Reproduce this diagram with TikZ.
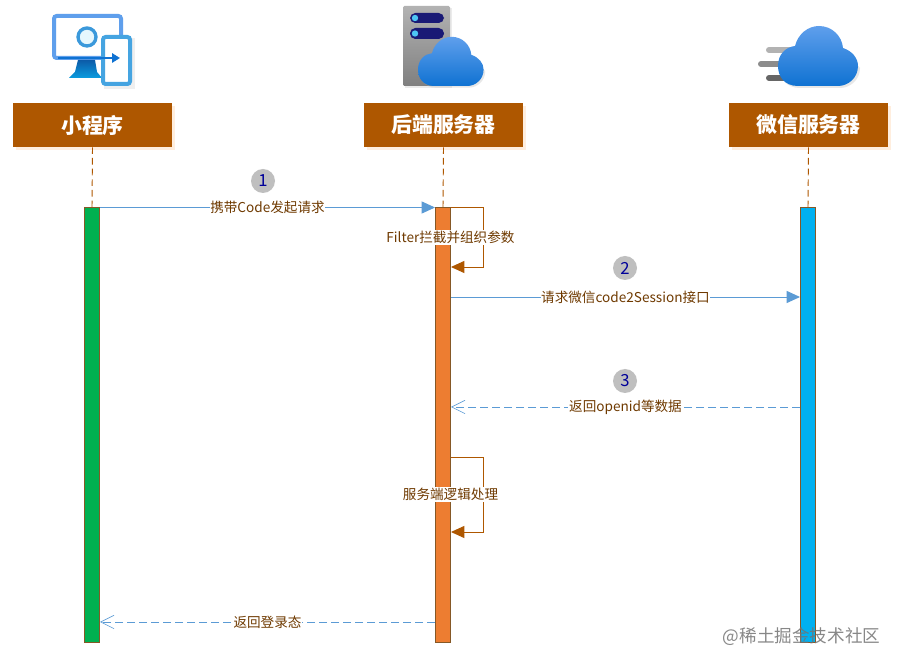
\documentclass[tikz,border=0pt]{standalone}
\usepackage{fontspec}
\setmainfont{Noto Sans CJK SC}
\usetikzlibrary{arrows.meta,positioning,shadows}
\definecolor{headbrown}{HTML}{AE5700}
\definecolor{textbrown}{HTML}{6F3A00}
\definecolor{arrowblue}{HTML}{5B9BD5}
\definecolor{cloudtop}{HTML}{5F9FEC}
\definecolor{cloudbot}{HTML}{0F72D2}
\definecolor{appgreen}{HTML}{00B050}
\definecolor{srvorange}{HTML}{ED7D31}
\definecolor{wxblue}{HTML}{00B0F0}
\tikzset{
	header/.style={fill=headbrown, text=white, font=\fontsize{15.7}{18}\selectfont\bfseries, minimum width=119.25pt, minimum height=33pt, inner sep=0pt, drop shadow={shadow xshift=2pt, shadow yshift=-2pt, fill=orange!25, opacity=0.5}},
	lifebar/.style={draw=textbrown!85, line width=0.5pt, minimum width=11.5pt, minimum height=326.25pt, inner sep=0pt, anchor=north},
	lifeline/.style={draw=headbrown, dash pattern=on 5pt off 3pt, line width=0.7pt},
	callline/.style={draw=arrowblue, line width=0.7pt, -{Triangle[length=10pt,width=9pt]}},
	backline/.style={draw=arrowblue, line width=0.7pt, dash pattern=on 6pt off 3pt, -{Straight Barb[length=10pt,width=10pt,line width=0.5pt]}},
	selfline/.style={draw=headbrown, line width=0.7pt, -{Triangle[length=10pt,width=9pt]}},
	msg/.style={fill=white, text=textbrown, font=\fontsize{10.2}{12}\selectfont, inner xsep=0.5pt, inner ysep=1pt},
	step num/.style={circle, fill=black!25, text=blue!60!black, minimum size=18pt, inner sep=0pt, font=\fontsize{12.5}{14}\selectfont},
	pics/cloudpic/.style={code={
		\fill[black!30, opacity=0.3] (22,2) .. controls (8,2) and (2,-8) .. (2,-18) -- (19,-37) -- (43,-58) -- (67,-36) -- (82,-18) .. controls (82,-6) and (72,2) .. (62,2) -- cycle;
		\shade[top color=cloudtop, bottom color=cloudbot] (20,0) .. controls (6,0) and (0,-10) .. (0,-20) .. controls (0,-32) and (8,-39) .. (17,-40) .. controls (20,-52) and (30,-60) .. (41,-60) .. controls (54,-60) and (64,-50) .. (65,-38) .. controls (74,-35) and (80,-28) .. (80,-20) .. controls (80,-8) and (70,0) .. (60,0) -- cycle;
	}},
}
\begin{document}
\begin{tikzpicture}[x=0.75pt,y=-0.75pt]
		%%%%% START %%%%%
		\useasboundingbox (0,0) rectangle (901,666);
		\fill[white] (0,0) rectangle (901,666);
		
		% headers
		\node[header] (app) at (92.5,125) {小程序};
		\node[header] (srv) at (443.5,125) {后端服务器};
		\node[header] (wx) at (808.5,125) {微信服务器};
		
		% bars
		\node[lifebar, fill=appgreen] (appbar) at (92,207.5) {};
		\node[lifebar, fill=srvorange] (srvbar) at (443,207.5) {};
		\node[lifebar, fill=wxblue] (wxbar) at (808,207.5) {};
		
		\draw[lifeline] (app.south) -- (appbar.north);
		\draw[lifeline] (srv.south) -- (srvbar.north);
		\draw[lifeline] (wx.south) -- (wxbar.north);
		
		% rows of the messages
		\coordinate (rowa) at (0,267);
		\coordinate (rowb) at (0,297);
		\coordinate (rowc) at (0,407);
		\coordinate (rowd) at (0,457);
		\coordinate (rowe) at (0,532);
		\coordinate (rowf) at (0,622);
		\coordinate (loopa) at (483,207.5);
		\coordinate (loopb) at (483,267);
		\coordinate (loopc) at (483,457);
		\coordinate (loopd) at (483,532);
		
		\draw[callline] (appbar.north east) -- node[msg] {携带Code发起请求} (srvbar.north west);
		
		\draw[selfline] (srvbar.north east) -- (loopa) -- (loopb) -- (srvbar.east |- rowa);
		\node[msg] (filter) at (450.5,237.5) {Filter拦截并组织参数};
		
		\draw[callline] (srvbar.east |- rowb) -- node[msg] {请求微信code2Session接口} (wxbar.west |- rowb);
		\draw[backline] (wxbar.west |- rowc) -- node[msg] {返回openid等数据} (srvbar.east |- rowc);
		
		\draw[selfline] (srvbar.east |- rowd) -- (loopc) -- (loopd) -- (srvbar.east |- rowe);
		\node[msg] (logic) at (450.5,494.5) {服务端逻辑处理};
		
		\draw[backline] (srvbar.west |- rowf) -- node[msg] {返回登录态} (appbar.east |- rowf);
		
		% numbers
		\node[step num] (numa) at (263,181) {1};
		\node[step num] (numb) at (625,268) {2};
		\node[step num] (numc) at (625,381) {3};
		
		% monitor icon
		\fill[black!30, opacity=0.2] (104,38) rectangle (135,89);
		\draw[draw=cloudtop, fill=white, line width=3pt, rounded corners=2pt] (54,16) rectangle (121,58);
		\shade[top color=cloudbot!80!black, bottom color=cloudbot!70!cyan] (78,60) -- (95,60) -- (97,72) -- (102,78) -- (69,78) -- (75,72) -- cycle;
		\draw[draw=cyan!70!blue!80, fill=cyan!10, line width=2.5pt] (87,37) circle (9);
		\draw[draw=cyan!75!blue!75, fill=white, line width=3pt, rounded corners=2pt] (103,37) rectangle (130,84);
		\draw[draw=cloudbot, line width=2pt, -{Triangle[length=6pt,width=7pt]}] (58,58) -- (120,58);
		
		% server icon
		\fill[black!30, opacity=0.25] (405,8) rectangle (452,88);
		\shade[top color=black!30, bottom color=black!50, rounded corners=1pt] (403,6) rectangle (450,86);
		\fill[blue!40!black!90, rounded corners=4pt] (410,13) rectangle (444,23);
		\fill[blue!40!black!90, rounded corners=4pt] (410,28) rectangle (444,39);
		\fill[cyan!70] (415,18) circle (3.2);
		\fill[cyan!70] (415,33.5) circle (3.2);
		\pic[scale=0.82] at (418,86) {cloudpic};
		
		% speed lines and cloud
		\draw[black!30, line width=4.5pt, line cap=round] (769,50) -- (790,50);
		\draw[black!45, line width=4.5pt, line cap=round] (761,64) -- (790,64);
		\draw[black!60, line width=4.5pt, line cap=round] (769,78) -- (790,78);
		\pic at (778,86) {cloudpic};
		
		% watermark
		\node[text=black!55, font=\fontsize{13.2}{16}\selectfont, inner sep=0pt, opacity=0.85] (mark) at (801.5,637) {@稀土掘金技术社区};
		%%%%% END %%%%%
	\end{tikzpicture}
\end{document}
